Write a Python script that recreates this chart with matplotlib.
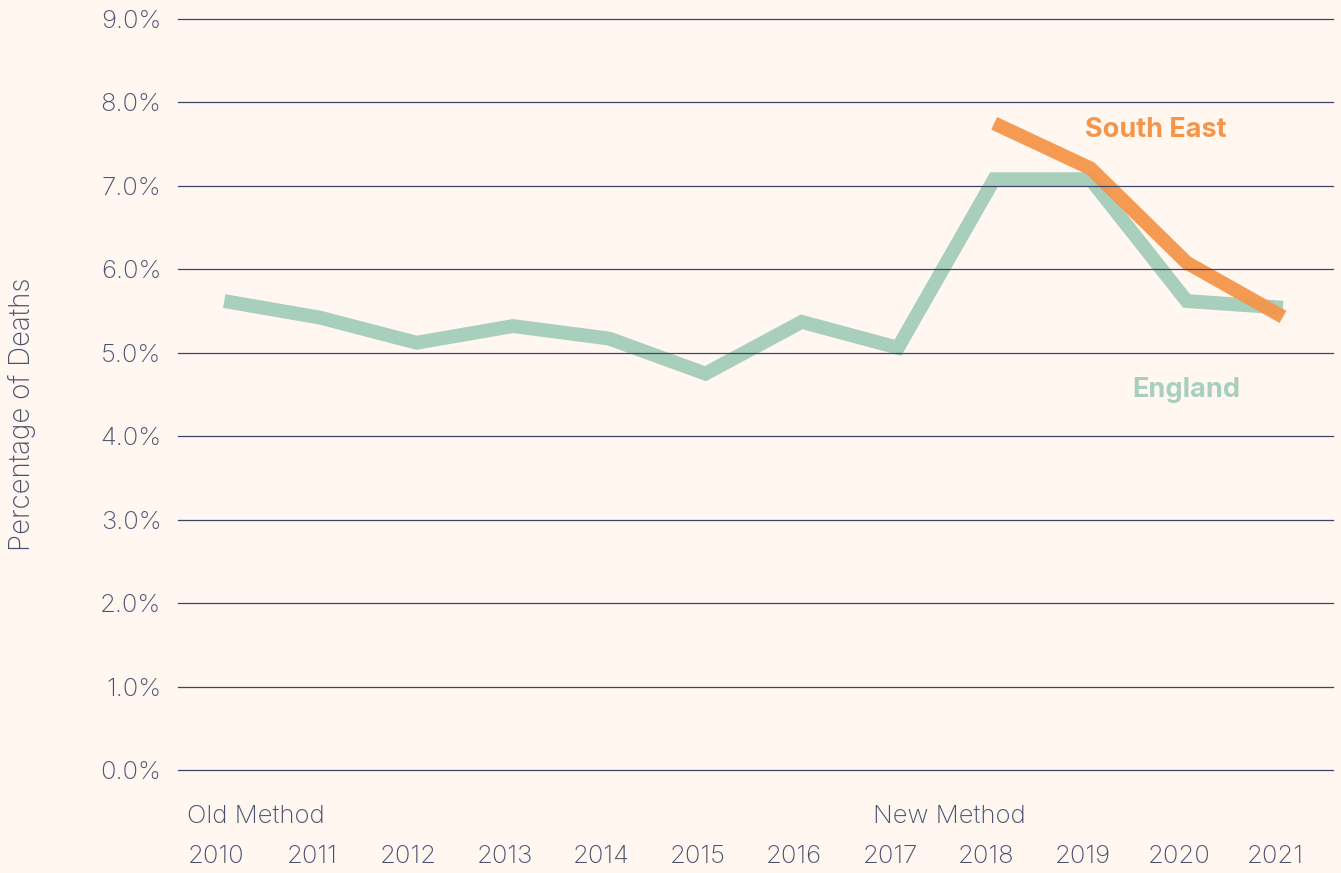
import matplotlib
matplotlib.use("Agg")
import matplotlib.pyplot as plt
import matplotlib.transforms as mtransforms

# ─── data ───
years = [2010, 2011, 2012, 2013, 2014, 2015, 2016, 2017, 2018, 2019, 2020, 2021]
england = [5.62, 5.42, 5.12, 5.32, 5.17, 4.75, 5.37, 5.06, 7.08, 7.08, 5.62, 5.54]
se_years = [2018, 2019, 2020, 2021]
south_east = [7.75, 7.21, 6.08, 5.43]
y_ticks = [0, 1, 2, 3, 4, 5, 6, 7, 8, 9]

BG = "#FFF7F0"
INK = "#4A5070"
GREEN = "#A8CFBB"
ORANGE = "#F5954A"
FONT = ["Inter", "DejaVu Sans"]
FS = 18.5
W = "light"

fig = plt.figure(figsize=(13.41, 8.73), dpi=100)
fig.patch.set_facecolor(BG)
ax = fig.add_axes([178 / 1341, 103 / 873, 1155 / 1341, 751 / 873])
ax.set_facecolor(BG)

ax.plot(years, england, color=GREEN, lw=10, solid_capstyle="butt",
        solid_joinstyle="miter", zorder=2)
ax.plot(se_years, south_east, color=ORANGE, lw=10, alpha=0.95,
        solid_capstyle="butt", solid_joinstyle="miter", zorder=2.2)

ax.set_xlim(2009.52, 2021.52)
ax.set_ylim(0, 9)
ax.set_yticks(y_ticks)
ax.set_yticklabels([f"{v:.1f}%" for v in y_ticks], family=FONT,
                   fontsize=FS, color=INK, fontweight=W)
ax.set_xticks(years)
ax.set_xticklabels([str(y) for y in years], family=FONT,
                   fontsize=FS, color=INK, fontweight=W)
ax.tick_params(axis="both", length=0)
ax.tick_params(axis="y", pad=12)
ax.tick_params(axis="x", pad=54)
shift = mtransforms.ScaledTranslation(-8 / 100, 0, fig.dpi_scale_trans)
for lab in ax.get_xticklabels():
    lab.set_transform(lab.get_transform() + shift)

ax.grid(axis="y", color="#3D4466", lw=0.9)
ax.grid(axis="x", visible=False)
for gl in ax.get_ygridlines():
    gl.set_clip_on(False)
ax.set_axisbelow(False)
for s in ax.spines.values():
    s.set_visible(False)

fig.text(22 / 1341, 1 - 414 / 873, "Percentage of Deaths", family=FONT,
         fontsize=FS + 1.5, color=INK, fontweight=W, rotation=90,
         ha="center", va="center")

# method labels under the axis
px = mtransforms.blended_transform_factory(ax.transData, ax.transAxes)
ax.text(2009.61, -46 / 751, "Old Method", transform=px, family=FONT,
        fontsize=FS, color=INK, fontweight=W, ha="left", va="center")
ax.text(2016.74, -46 / 751, "New Method", transform=px, family=FONT,
        fontsize=FS, color=INK, fontweight=W, ha="left", va="center")

# series labels
ax.text(2019.68, 7.67, "South East", family=FONT, fontsize=19.5,
        fontweight="bold", color=ORANGE, ha="center", va="center")
ax.text(2020.0, 4.55, "England", family=FONT, fontsize=19.5,
        fontweight="bold", color=GREEN, ha="center", va="center")

fig.savefig("out.png", dpi=100, facecolor=BG)
